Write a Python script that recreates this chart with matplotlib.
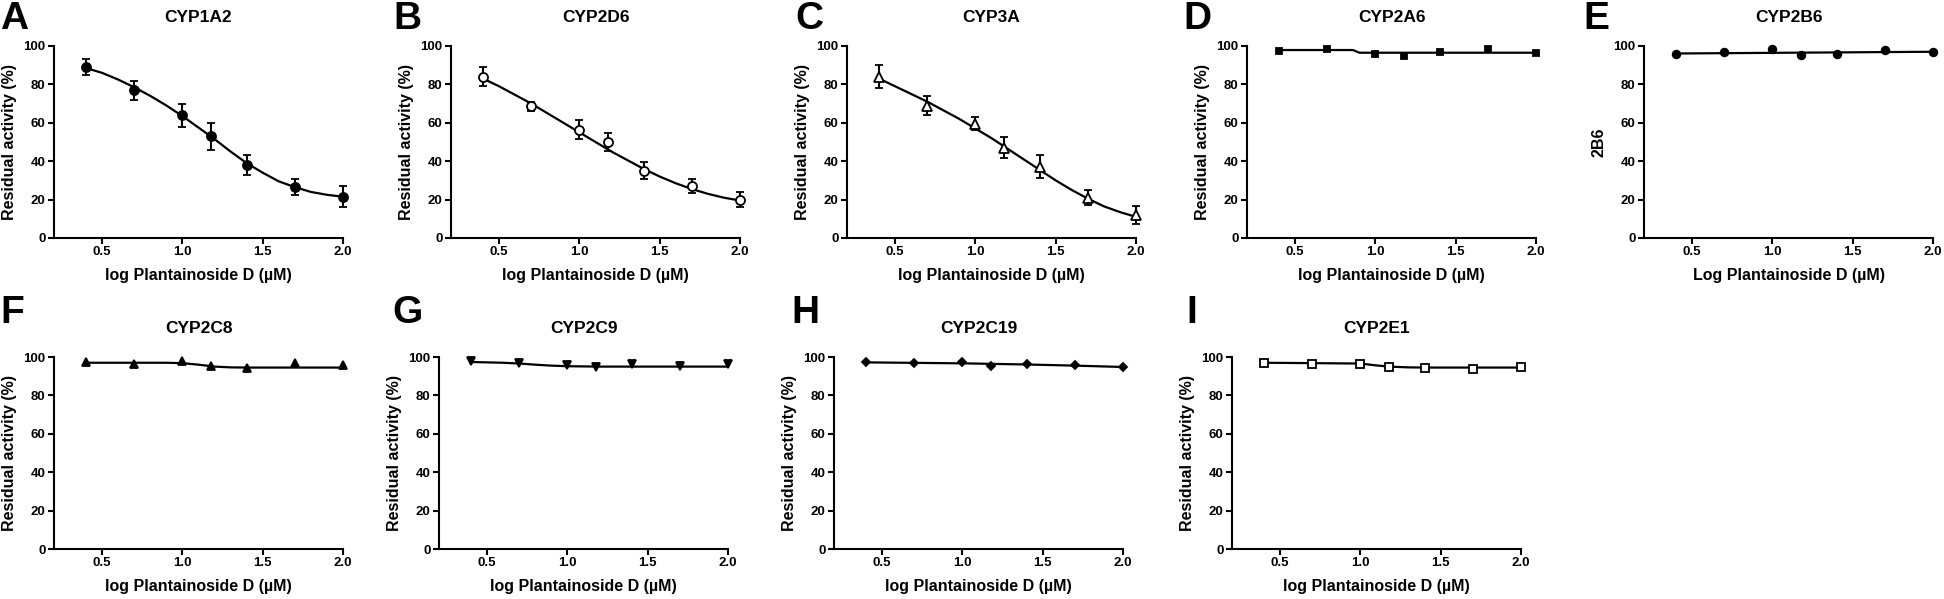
import matplotlib.pyplot as plt

plt.rcParams['font.family'] = ['Liberation Sans', 'DejaVu Sans']
plt.rcParams['font.weight'] = 'bold'
plt.rcParams['axes.labelweight'] = 'bold'
plt.rcParams['axes.linewidth'] = 1.5
plt.rcParams['xtick.major.width'] = 1.5
plt.rcParams['ytick.major.width'] = 1.5

# x positions: log of 2.5, 5, 10, 15, 25, 50, 100 uM
log_conc = [0.4, 0.7, 1.0, 1.18, 1.4, 1.7, 2.0]
fit_x = [0.4, 0.5, 0.6, 0.7, 0.8, 0.9, 1.0, 1.1, 1.2, 1.3, 1.4, 1.5, 1.6, 1.7, 1.8, 1.9, 2.0]

# A CYP1A2
cyp1a2 = [89, 77, 64, 53, 38, 26.5, 21.5]
cyp1a2_err = [4, 5, 6, 7, 5, 4, 5.5]
cyp1a2_fit = [88.5, 86, 82.5, 78.5, 74, 69, 63.5, 57.5, 51.5, 45, 39, 34, 29.5, 26.5, 24, 22.5, 21.5]

# B CYP2D6
cyp2d6 = [84, 68.5, 56.5, 50, 35, 27, 20]
cyp2d6_err = [5, 2.5, 5, 4.5, 4.5, 3.5, 4]
cyp2d6_fit = [83, 79, 74.5, 70, 65, 60, 55, 50, 45, 40.5, 36, 32, 28.5, 25.5, 23, 21, 19.5]

# C CYP3A
cyp3a = [84, 69, 59.5, 47, 37, 21, 12]
cyp3a_err = [6, 5, 3.5, 5.5, 6, 4, 4.5]
cyp3a_fit = [83, 79, 75, 71, 66.5, 62, 57, 52, 46.5, 41, 35.5, 30, 25, 20.5, 16.5, 13.5, 11]

# D CYP2A6
cyp2a6 = [97.4, 98.3, 96, 94.6, 96.9, 98.4, 96.4]
cyp2a6_fit_x = [0.4, 0.86, 0.9, 2.0]
cyp2a6_fit = [97.9, 97.9, 96.5, 96.5]

# E CYP2B6
cyp2b6 = [95.7, 96.7, 98.4, 95.2, 95.7, 98.1, 96.7]
cyp2b6_fit_x = [0.4, 2.0]
cyp2b6_fit = [96.1, 97.0]

# F CYP2C8
cyp2c8 = [97.2, 96.5, 97.9, 95.3, 94.4, 97.0, 96.0]
cyp2c8_fit_x = [0.4, 0.9, 1.0, 1.1, 1.2, 1.3, 1.4, 2.0]
cyp2c8_fit = [97.0, 97.0, 96.8, 96.0, 95.0, 94.6, 94.5, 94.5]

# G CYP2C9
cyp2c9 = [97.7, 97.0, 95.8, 94.8, 96.2, 95.1, 96.5]
cyp2c9_fit_x = [0.4, 0.6, 0.7, 0.8, 0.9, 1.0, 1.2, 2.0]
cyp2c9_fit = [97.4, 97.0, 96.6, 96.0, 95.5, 95.2, 95.0, 95.0]

# H CYP2C19
cyp2c19 = [97.5, 96.7, 97.3, 95.5, 96.5, 95.7, 94.8]
cyp2c19_fit_x = [0.4, 1.0, 1.4, 1.7, 2.0]
cyp2c19_fit = [97.2, 96.7, 96.1, 95.5, 94.8]

# I CYP2E1
cyp2e1 = [97.1, 96.2, 96.2, 95.0, 94.1, 93.9, 95.0]
cyp2e1_fit_x = [0.4, 1.0, 1.1, 1.18, 1.3, 1.4, 2.0]
cyp2e1_fit = [97.0, 96.6, 95.6, 95.0, 94.6, 94.5, 94.5]

ylab = 'Residual activity (%)'
xlab = 'log Plantainoside D (\u00b5M)'

# letter, title, values, error, fit x, fit y, marker, face, marker size, y label, x label
panels = [
    ('A', 'CYP1A2', cyp1a2, cyp1a2_err, fit_x, cyp1a2_fit, 'o', 'black', 6.5, ylab, xlab),
    ('B', 'CYP2D6', cyp2d6, cyp2d6_err, fit_x, cyp2d6_fit, 'o', 'white', 6.5, ylab, xlab),
    ('C', 'CYP3A', cyp3a, cyp3a_err, fit_x, cyp3a_fit, '^', 'white', 7, ylab, xlab),
    ('D', 'CYP2A6', cyp2a6, None, cyp2a6_fit_x, cyp2a6_fit, 's', 'black', 5, ylab, xlab),
    ('E', 'CYP2B6', cyp2b6, None, cyp2b6_fit_x, cyp2b6_fit, 'o', 'black', 5.5, '2B6', 'Log Plantainoside D (\u00b5M)'),
    ('F', 'CYP2C8', cyp2c8, None, cyp2c8_fit_x, cyp2c8_fit, '^', 'black', 5.5, ylab, xlab),
    ('G', 'CYP2C9', cyp2c9, None, cyp2c9_fit_x, cyp2c9_fit, 'v', 'black', 5.5, ylab, xlab),
    ('H', 'CYP2C19', cyp2c19, None, cyp2c19_fit_x, cyp2c19_fit, 'D', 'black', 4, ylab, xlab),
    ('I', 'CYP2E1', cyp2e1, None, cyp2e1_fit_x, cyp2e1_fit, 's', 'white', 6, ylab, xlab),
]

# layout in pixels (figure is 1944 x 599)
W, H = 1944, 599
ax_lefts = [54, 451, 847, 1247, 1644, 54, 439, 834, 1232]
ax_bottoms = [238] * 5 + [549] * 4
letter_x = [0, 393, 795, 1183, 1583, 0, 392, 791, 1186]
letter_top = [1] * 5 + [295] * 4
ax_w, ax_h = 289, 192

fig = plt.figure(figsize=(W / 100, H / 100), dpi=100)

for i, (letter, title, y, err, fx, fy, mk, fc, ms, yl, xl) in enumerate(panels):
    ax = fig.add_axes([ax_lefts[i] / W, (H - ax_bottoms[i]) / H, ax_w / W, ax_h / H])
    ax.plot(fx, fy, color='black', linewidth=1.6, zorder=2)
    if err is not None:
        ax.errorbar(log_conc, y, yerr=err, fmt=mk, color='black', mfc=fc, mec='black',
                    mew=1.3, ms=ms, capsize=3.2, elinewidth=1.5, capthick=1.5, zorder=3, clip_on=False)
    else:
        ax.plot(log_conc, y, linestyle='none', marker=mk, color='black', mfc=fc, mec='black',
                mew=1.3, ms=ms, zorder=3, clip_on=False)
    ax.set_xlim(0.2, 2.0)
    ax.set_ylim(0, 100)
    ax.set_xticks([0.5, 1.0, 1.5, 2.0])
    ax.set_xticklabels(['0.5', '1.0', '1.5', '2.0'])
    ax.set_yticks([0, 20, 40, 60, 80, 100])
    ax.spines['top'].set_visible(False)
    ax.spines['right'].set_visible(False)
    ax.tick_params(direction='out', length=4, pad=2, labelsize=9.5)
    for lab in ax.get_xticklabels() + ax.get_yticklabels():
        lab.set_fontweight('bold')
    ax.set_title(title, fontsize=12.5, fontweight='bold', pad=17)
    ax.set_xlabel(xl, fontsize=11.5, fontweight='bold', labelpad=7)
    ax.set_ylabel(yl, fontsize=11.5, fontweight='bold', labelpad=5)
    fig.text(letter_x[i] / W, 1 - letter_top[i] / H, letter, fontsize=28,
             fontweight='bold', ha='left', va='top')

plt.savefig('out.png', dpi=100)
plt.close()
